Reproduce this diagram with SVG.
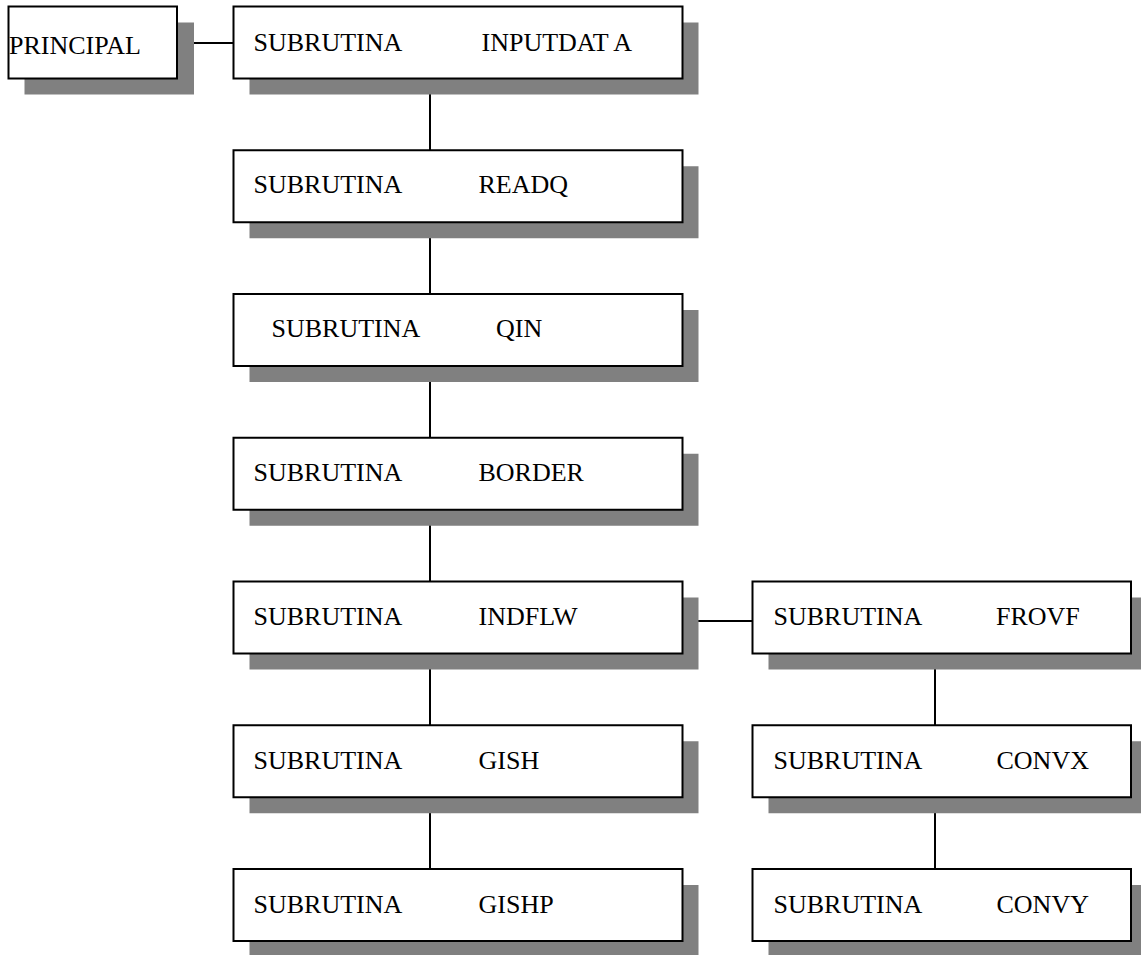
<svg xmlns="http://www.w3.org/2000/svg" width="1141" height="955" viewBox="0 0 1141 955">
<style>
.sh{fill:#808080;stroke:none}
.bx{fill:#ffffff;stroke:#000000;stroke-width:2}
.t{font-family:"Liberation Serif","Times New Roman",serif;font-size:26px;fill:#000000}
.c{stroke:#000000;stroke-width:2;fill:none}
</style>
<rect width="1141" height="955" fill="#ffffff"/>
<g id="connectors">
<line class="c" x1="177" y1="43" x2="233.5" y2="43"/>
<line class="c" x1="430" y1="78.5" x2="430" y2="150.25"/>
<line class="c" x1="430" y1="222.25" x2="430" y2="294"/>
<line class="c" x1="430" y1="366" x2="430" y2="437.75"/>
<line class="c" x1="430" y1="509.75" x2="430" y2="581.5"/>
<line class="c" x1="430" y1="653.5" x2="430" y2="725.25"/>
<line class="c" x1="430" y1="797.25" x2="430" y2="869"/>
<line class="c" x1="682.5" y1="621" x2="752.5" y2="621"/>
<line class="c" x1="935" y1="653.5" x2="935" y2="725.25"/>
<line class="c" x1="935" y1="797.25" x2="935" y2="869"/>
</g>
<g id="principal">
<rect class="sh" x="24.5" y="22.5" width="169.5" height="72"/>
<rect class="bx" x="8.5" y="6.5" width="168.5" height="72"/>
<text class="t" x="9" y="54">PRINCIPAL</text>
</g>
<g id="inputdata">
<rect class="sh" x="249.5" y="22.5" width="449" height="72"/>
<rect class="bx" x="233.5" y="6.5" width="449" height="72"/>
<text class="t" x="253.5" y="50.5">SUBRUTINA</text>
<text class="t" x="481.5" y="50.5">INPUTDAT A</text>
</g>
<g id="readq">
<rect class="sh" x="249.5" y="166.25" width="449" height="72"/>
<rect class="bx" x="233.5" y="150.25" width="449" height="72"/>
<text class="t" x="253.5" y="193">SUBRUTINA</text>
<text class="t" x="478.5" y="193">READQ</text>
</g>
<g id="qin">
<rect class="sh" x="249.5" y="310" width="449" height="72"/>
<rect class="bx" x="233.5" y="294" width="449" height="72"/>
<text class="t" x="271.5" y="337">SUBRUTINA</text>
<text class="t" x="496" y="337">QIN</text>
</g>
<g id="border">
<rect class="sh" x="249.5" y="453.75" width="449" height="72"/>
<rect class="bx" x="233.5" y="437.75" width="449" height="72"/>
<text class="t" x="253.5" y="481">SUBRUTINA</text>
<text class="t" x="478.5" y="481">BORDER</text>
</g>
<g id="indflw">
<rect class="sh" x="249.5" y="597.5" width="449" height="72"/>
<rect class="bx" x="233.5" y="581.5" width="449" height="72"/>
<text class="t" x="253.5" y="624.5">SUBRUTINA</text>
<text class="t" x="478.5" y="624.5">INDFLW</text>
</g>
<g id="gish">
<rect class="sh" x="249.5" y="741.25" width="449" height="72"/>
<rect class="bx" x="233.5" y="725.25" width="449" height="72"/>
<text class="t" x="253.5" y="769">SUBRUTINA</text>
<text class="t" x="478.5" y="769">GISH</text>
</g>
<g id="gishp">
<rect class="sh" x="249.5" y="885" width="449" height="72"/>
<rect class="bx" x="233.5" y="869" width="449" height="72"/>
<text class="t" x="253.5" y="912.5">SUBRUTINA</text>
<text class="t" x="478.5" y="912.5">GISHP</text>
</g>
<g id="frovf">
<rect class="sh" x="768.5" y="597.5" width="379" height="72"/>
<rect class="bx" x="752.5" y="581.5" width="378.5" height="72"/>
<text class="t" x="773.5" y="624.5">SUBRUTINA</text>
<text class="t" x="996" y="624.5">FROVF</text>
</g>
<g id="convx">
<rect class="sh" x="768.5" y="741.25" width="379" height="72"/>
<rect class="bx" x="752.5" y="725.25" width="378.5" height="72"/>
<text class="t" x="773.5" y="769">SUBRUTINA</text>
<text class="t" x="996.5" y="769">CONVX</text>
</g>
<g id="convy">
<rect class="sh" x="768.5" y="885" width="379" height="72"/>
<rect class="bx" x="752.5" y="869" width="378.5" height="72"/>
<text class="t" x="773.5" y="912.5">SUBRUTINA</text>
<text class="t" x="996.5" y="912.5">CONVY</text>
</g>
</svg>
